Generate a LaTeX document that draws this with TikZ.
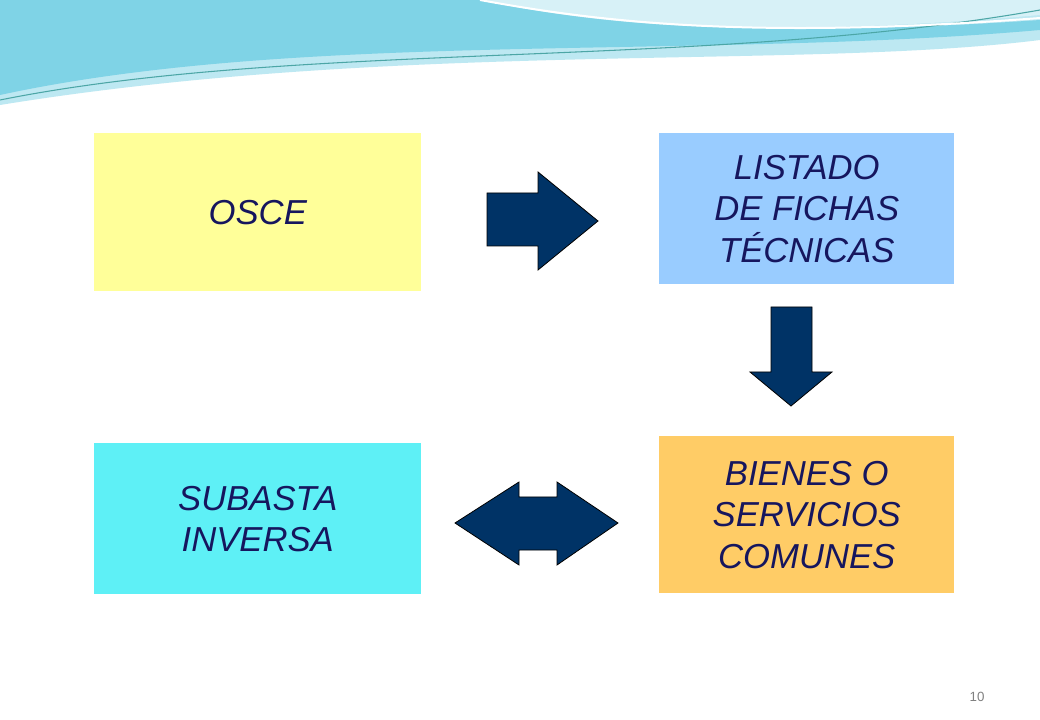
\documentclass[tikz,border=0pt]{standalone}
\usepackage{fontspec}
\setmainfont{Liberation Sans}
\begin{document}
\begin{tikzpicture}[x=0.75pt,y=-0.75pt,
  box/.style={draw=none,anchor=north west,inner sep=0pt,align=center,
    font=\itshape\fontsize{26}{31}\selectfont,text=navytext},
  arr/.style={fill=arrowblue,draw=black,line width=0.6pt,line join=miter}]
\definecolor{navytext}{HTML}{16165E}
\definecolor{arrowblue}{HTML}{003366}
\definecolor{cyellow}{HTML}{FFFF99}
\definecolor{cblue}{HTML}{99CCFF}
\definecolor{ccyan}{HTML}{5EF0F6}
\definecolor{corange}{HTML}{FFCC66}
\definecolor{wave1}{HTML}{7FD3E6}
\definecolor{wave2}{HTML}{BDE8F2}
\useasboundingbox (0,0) rectangle (1040,720);
\fill[white] (0,0) rectangle (1040,720);
% top decoration
\fill[wave2] (0,0) -- (1040,0) -- (1040,40) .. controls (800,70) and (400,40) .. (0,105) -- cycle;
\fill[wave1] (0,0) -- (480,0) .. controls (600,20) and (750,40) .. (1040,20) -- (1040,0) -- (1040,30) .. controls (700,60) and (300,30) .. (0,95) -- cycle;
\fill[wave2!60] (480,0) .. controls (600,25) and (750,40) .. (1040,15) -- (1040,0) -- cycle;
\draw[teal!70,line width=0.8pt] (0,100) .. controls (300,40) and (700,70) .. (1040,10);
\draw[white,line width=1.5pt] (480,0) .. controls (600,22) and (750,40) .. (1040,18);
% boxes
\node[box,fill=cyellow,minimum width=327*0.75pt,minimum height=158*0.75pt] (osce) at (94,133) {OSCE};
\node[box,fill=cblue,minimum width=295*0.75pt,minimum height=151*0.75pt] (listado) at (659,133) {LISTADO\\DE FICHAS\\TÉCNICAS};
\node[box,fill=ccyan,minimum width=327*0.75pt,minimum height=151*0.75pt] (subasta) at (94,443) {SUBASTA\\INVERSA};
\node[box,fill=corange,minimum width=295*0.75pt,minimum height=157*0.75pt] (bienes) at (659,436) {BIENES O\\SERVICIOS\\COMUNES};
% arrows
\draw[arr] (487,193) -- (538,193) -- (538,172) -- (598,221) -- (538,270) -- (538,246) -- (487,246) -- cycle;
\draw[arr] (771,307) -- (812,307) -- (812,372) -- (832,372) -- (791,406) -- (750,372) -- (771,372) -- cycle;
\draw[arr] (455,523) -- (519,482) -- (519,497) -- (557,497) -- (557,482) -- (618,523) -- (557,565) -- (557,550) -- (519,550) -- (519,565) -- cycle;
\node[text=gray,font=\fontsize{10}{12}\selectfont] (pg) at (977,697) {10};
\end{tikzpicture}
\end{document}
